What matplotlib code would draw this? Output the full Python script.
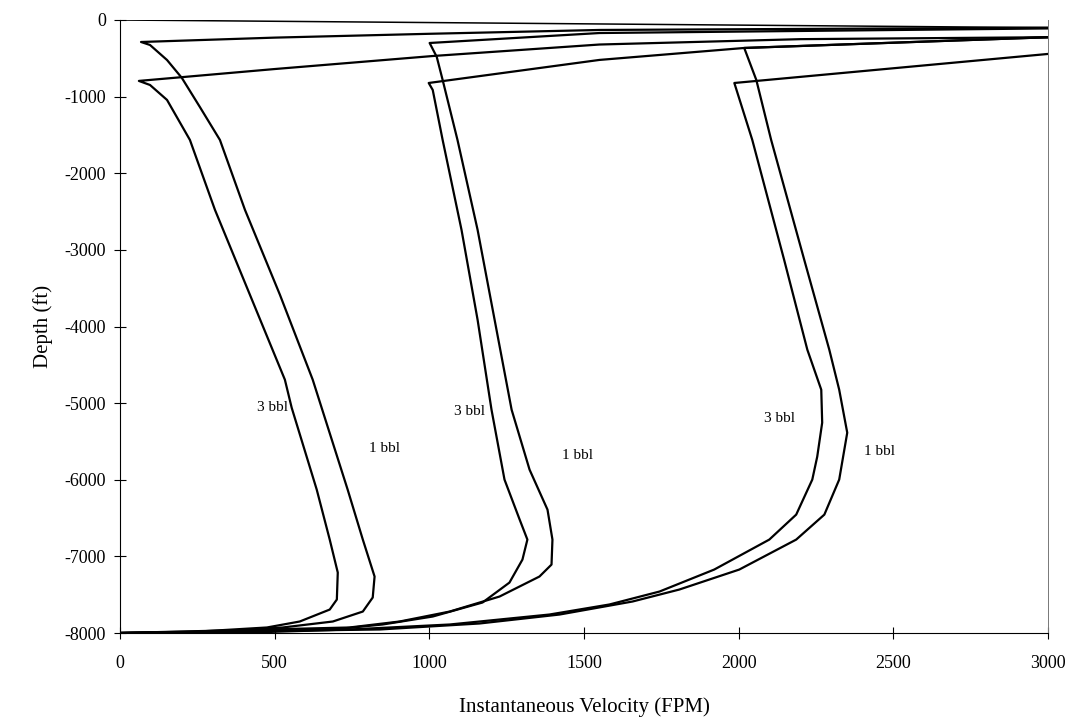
import matplotlib
matplotlib.use("Agg")
import matplotlib.pyplot as plt

# ---- data (velocity FPM, depth ft) ----
g1_3bbl_v = [0, 258, 475, 581, 678, 701, 704, 678, 636, 555, 533, 420, 307, 226, 152, 97, 61, 500, 1011, 1550, 2200, 3000]
g1_3bbl_d = [-8000, -7980, -7928, -7850, -7694, -7563, -7211, -6781, -6129, -5060, -4694, -3586, -2478, -1565, -1043, -848, -795, -640, -470, -320, -250, -225]

g1_1bbl_v = [0, 258, 526, 688, 785, 817, 823, 785, 736, 623, 517, 404, 323, 258, 200, 152, 97, 68, 500, 1000, 1550, 3000]
g1_1bbl_d = [-8000, -7990, -7928, -7850, -7720, -7537, -7263, -6781, -6129, -4694, -3586, -2478, -1565, -1134, -756, -522, -326, -287, -230, -180, -130, -100]

g2_3bbl_v = [0, 420, 688, 849, 1011, 1172, 1259, 1301, 1317, 1292, 1243, 1201, 1156, 1104, 1043, 1011, 998, 1550, 2018, 3000]
g2_3bbl_d = [-8000, -7980, -7954, -7889, -7785, -7602, -7342, -7042, -6781, -6520, -5998, -5086, -3912, -2738, -1565, -913, -822, -521, -365, -225]

g2_1bbl_v = [0, 742, 904, 1066, 1227, 1356, 1395, 1398, 1382, 1324, 1266, 1211, 1156, 1091, 1043, 1024, 1001, 1550, 3000]
g2_1bbl_d = [-8000, -7928, -7850, -7720, -7524, -7263, -7107, -6781, -6390, -5868, -5086, -3912, -2738, -1565, -782, -482, -300, -170, -110]

g3_3bbl_v = [0, 420, 743, 1066, 1388, 1582, 1744, 1921, 2099, 2186, 2238, 2254, 2270, 2267, 2222, 2147, 2044, 1986, 3000]
g3_3bbl_d = [-8000, -7994, -7954, -7889, -7759, -7628, -7459, -7172, -6781, -6455, -5998, -5698, -5255, -4825, -4303, -3130, -1565, -822, -443]

g3_1bbl_v = [0, 840, 1162, 1421, 1657, 1808, 2002, 2186, 2277, 2325, 2351, 2325, 2293, 2212, 2105, 2057, 2018, 3000]
g3_1bbl_d = [-8000, -7954, -7876, -7759, -7589, -7433, -7172, -6781, -6455, -5998, -5386, -4825, -4303, -3130, -1565, -782, -365, -225]

top_v = [0, 3000]
top_d = [0, -100]

labels = ["3 bbl", "1 bbl", "3 bbl", "1 bbl", "3 bbl", "1 bbl"]
label_v = [494, 856, 1130, 1479, 2131, 2454]
label_d = [-5060, -5594, -5112, -5685, -5203, -5633]

xticks = [0, 500, 1000, 1500, 2000, 2500, 3000]
yticks = [0, -1000, -2000, -3000, -4000, -5000, -6000, -7000, -8000]

plt.rcParams['font.family'] = ['Liberation Serif', 'DejaVu Serif']

fig = plt.figure(figsize=(10.72, 7.21), dpi=100)
ax = fig.add_axes([120/1072, 88/721, (1048-120)/1072, (633-20)/721])

for v, d in [(g1_3bbl_v, g1_3bbl_d), (g1_1bbl_v, g1_1bbl_d),
             (g2_3bbl_v, g2_3bbl_d), (g2_1bbl_v, g2_1bbl_d),
             (g3_3bbl_v, g3_3bbl_d), (g3_1bbl_v, g3_1bbl_d),
             (top_v, top_d)]:
    ax.plot(v, d, color='black', lw=1.6 if v is not top_v else 1.1, solid_joinstyle='round')

for t, v, d in zip(labels, label_v, label_d):
    ax.text(v, d, t, fontsize=11, ha='center', va='center')

ax.set_xlim(0, 3000)
ax.set_ylim(-8000, 0)
ax.set_xticks(xticks)
ax.set_yticks(yticks)
ax.set_xticklabels([str(t) for t in xticks], fontsize=13)
ax.set_yticklabels([str(t) for t in yticks], fontsize=13)
ax.tick_params(direction='inout', length=8, width=0.8, pad=12)
ax.tick_params(axis='y', pad=6)
ax.spines['top'].set_visible(False)
ax.spines['right'].set_color('#777777')
ax.spines['right'].set_linewidth(0.7)
ax.spines['left'].set_linewidth(0.8)
ax.spines['bottom'].set_linewidth(0.8)
ax.set_xlabel('Instantaneous Velocity (FPM)', fontsize=15, labelpad=18)
ax.set_ylabel('Depth (ft)', fontsize=15, labelpad=8)

fig.savefig('out.png', dpi=100)
